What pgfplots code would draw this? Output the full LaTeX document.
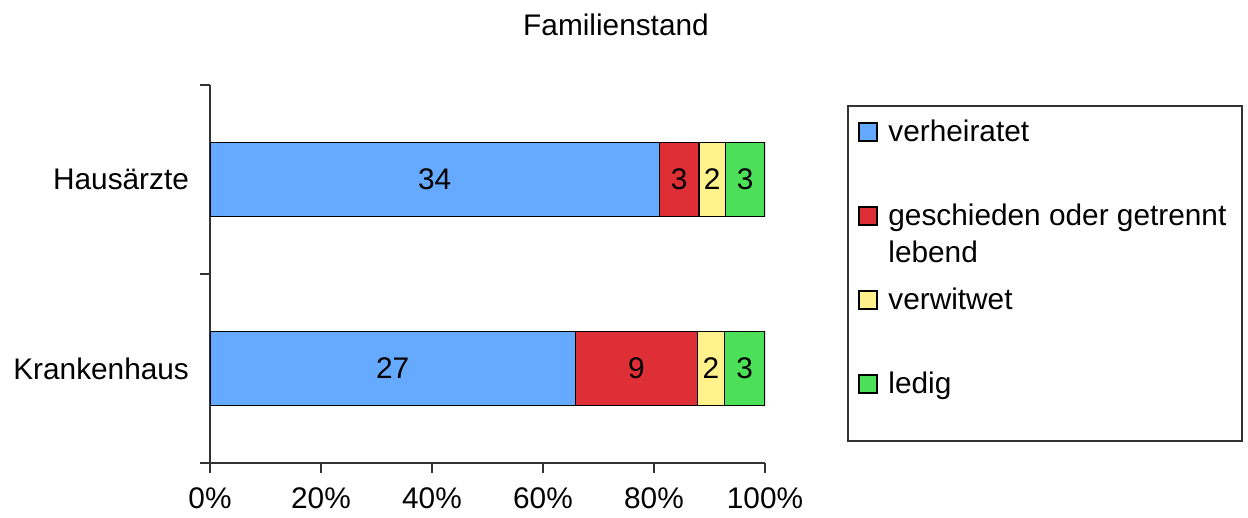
\documentclass[border=0pt]{standalone}
\usepackage{fontspec}
\setmainfont{Liberation Sans}
\usepackage{pgfplots}
\usepackage{pgfplotstable}
\pgfplotsset{compat=1.18}

\definecolor{cBlue}{RGB}{102,170,255}
\definecolor{cRed}{RGB}{222,46,54}
\definecolor{cYellow}{RGB}{255,242,140}
\definecolor{cGreen}{RGB}{76,224,88}

% counts per group: verheiratet, geschieden/getrennt, verwitwet, ledig
\pgfplotstableread{
idx v g w l
0 27 9 2 3
1 34 3 2 3
}\famtab

\newcommand{\tot}{(\thisrow{v}+\thisrow{g}+\thisrow{w}+\thisrow{l})}

\begin{document}
\begin{tikzpicture}[font=\fontsize{14.9}{17.9}\selectfont]
\useasboundingbox (-105pt,-27.5pt) rectangle (519pt,231.5pt);
\begin{axis}[
  scale only axis,
  width=277.5pt, height=189pt,
  xbar stacked,
  bar width=37pt,
  xmin=0, xmax=100,
  ymin=-0.5, ymax=1.5,
  axis lines*=left,
  axis line style={line width=0.6pt, black!80},
  tick align=outside,
  xtick={0,20,40,60,80,100},
  xticklabels={0\%,20\%,40\%,60\%,80\%,100\%},
  major tick length=5pt,
  xtick style={line width=0.6pt, black!80},
  ytick={0,1},
  yticklabels={Krankenhaus,Hausärzte},
  ytick style={draw=none},
  minor ytick={-0.5,0.5,1.5},
  minor tick length=5pt,
  minor y tick style={line width=0.6pt, black!80, draw=black!80},
  xticklabel style={yshift=-4pt},
  yticklabel style={xshift=-2pt},
  /pgf/number format/assume math mode=true,
  point meta=explicit,
  nodes near coords,
  nodes near coords align={center},
  every axis plot/.append style={draw=black, line width=0.75pt},
]
% bar length is the share of the group total, the label is the count
\addplot[fill=cBlue]   table[x expr=100*\thisrow{v}/\tot, y=idx, meta=v] {\famtab};
\addplot[fill=cRed]    table[x expr=100*\thisrow{g}/\tot, y=idx, meta=g] {\famtab};
\addplot[fill=cYellow] table[x expr=100*\thisrow{w}/\tot, y=idx, meta=w] {\famtab};
\addplot[fill=cGreen]  table[x expr=100*\thisrow{l}/\tot, y=idx, meta=l] {\famtab};
\end{axis}

% title
\node[anchor=base, inner sep=0] at (203pt,213.5pt) {Familienstand};

% legend
\draw[line width=0.6pt, black!80] (319pt,11pt) rectangle (516pt,178.5pt);
\begin{scope}[line width=0.75pt]
  \draw[fill=cBlue]   (324.5pt,161pt) rectangle ++(9pt,9pt);
  \draw[fill=cRed]    (324.5pt,119pt) rectangle ++(9pt,9pt);
  \draw[fill=cYellow] (324.5pt,77pt)  rectangle ++(9pt,9pt);
  \draw[fill=cGreen]  (324.5pt,35pt)  rectangle ++(9pt,9pt);
\end{scope}
\node[anchor=base west, inner sep=0] at (339pt,160.5pt) {verheiratet};
\node[anchor=base west, inner sep=0] at (339pt,118.5pt) {geschieden oder getrennt};
\node[anchor=base west, inner sep=0] at (339pt,100pt) {lebend};
\node[anchor=base west, inner sep=0] at (339pt,76.5pt) {verwitwet};
\node[anchor=base west, inner sep=0] at (339pt,34.5pt) {ledig};
\end{tikzpicture}
\end{document}
